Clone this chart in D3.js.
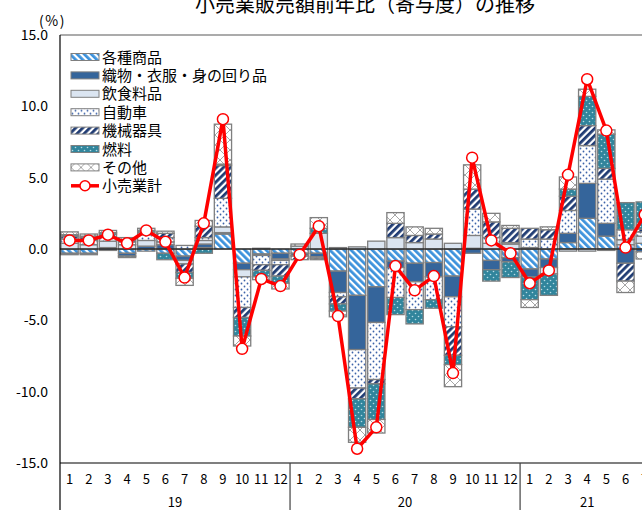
<!DOCTYPE html>
<html>
<head>
<meta charset="utf-8">
<script src="https://cdn.jsdelivr.net/npm/d3@7"></script>
<style>
  body { margin: 0; background: #fff; }
  text { font-family: "Noto Sans CJK JP", "Noto Sans", sans-serif; fill: #000; }
</style>
</head>
<body>
<div id="content"></div>
<script>
// months / years on the category axis
const months = ["1","2","3","4","5","6","7","8","9","10","11","12",
                "1","2","3","4","5","6","7","8","9","10","11","12",
                "1","2","3","4","5","6","7"]
const years = ["19", "20", "21"]
const yearLengths = [12, 12, 7]

const seriesNames = ["各種商品", "織物・衣服・身の回り品", "飲食料品", "自動車", "機械器具", "燃料", "その他"]
const lineName = "小売業計"

// contributions (% points)
const dept = [-0.3,-0.3,0.1,-0.3,-0.15,-0.3,-0.5,0.1,1.05,-1.0,-0.35,-0.3,
              -0.3,-0.3,-1.55,-3.25,-2.65,-0.85,-1.0,-0.95,-1.9,0.05,-0.8,-0.6,
              -1.4,-0.7,0.45,2.15,0.9,0.3,0.4]
const textile = [-0.1,-0.1,-0.1,-0.2,0.2,0.3,-0.3,0.25,0.1,-0.45,-0.1,-0.4,
                 -0.15,-0.25,-1.5,-3.8,-2.5,-0.45,-1.3,-1.0,-1.45,-0.3,-0.65,-0.3,
                 -0.55,-0.6,0.65,2.45,0.9,-1.0,-0.2]
const food = [0.4,0.3,0.45,0.3,0.4,0.2,-0.25,0.25,0.4,-0.5,0.05,-0.1,
              0.2,1.1,0.1,0.15,0.55,0.8,0.45,0.7,0.4,0.9,0.4,0.35,
              0.1,-0.45,-0.15,-0.15,-0.1,0.35,0.5]
const cars = [0.3,0.3,0.3,0.2,0.4,0.3,0.25,0.2,2.0,-2.15,-0.65,-0.3,
              -0.05,-0.1,-0.3,-2.7,-4.0,-2.1,-1.95,-1.6,-2.1,1.85,0.4,0.1,
              0.6,0.7,1.6,2.65,3.1,0.7,0.3]
const machinery = [0.2,0.2,0.2,0.15,0.2,0.3,-0.6,0.8,2.3,-0.7,-0.4,-0.8,
                   -0.25,-0.1,-0.5,-0.75,-0.3,1.0,0.5,0.35,-2.0,1.4,1.1,1.0,
                   0.75,0.65,1.0,1.4,0.75,-1.25,0.2]
const fuel = [0.1,0.1,0.1,-0.1,0.1,-0.45,-0.4,-0.3,0.1,-1.3,-0.45,-0.5,
              0.0,0.35,-0.5,-2.0,-2.5,-1.2,-1.0,-0.6,-0.65,0.0,-0.8,-1.1,
              -1.6,-1.5,0.5,2.05,2.4,1.9,1.9]
const other = [0.2,0.15,0.15,0.15,0.15,0.15,-0.5,0.4,2.8,-0.7,-0.2,-0.4,
               0.15,0.75,-0.4,-1.05,-0.95,0.75,0.6,0.4,-1.55,1.7,0.6,0.2,
               -0.55,0.2,0.85,0.5,0.3,-0.8,-0.5]
const total = [0.6,0.6,1.0,0.4,1.3,0.5,-2.0,1.8,9.1,-7.0,-2.1,-2.6,
               -0.4,1.6,-4.7,-14.0,-12.5,-1.2,-2.9,-1.9,-8.7,6.4,0.6,-0.3,
               -2.4,-1.5,5.2,11.9,8.3,0.1,2.4]

const yTicks = [-15, -10, -5, 0, 5, 10, 15]

const seriesValues = [dept, textile, food, cars, machinery, fuel, other]
const rows = months.map((m, i) => {
    const r = {i: i}
    seriesNames.forEach((k, j) => r[k] = seriesValues[j][i])
    return r
})

const margin = {top: 35, left: 60}
const outerWidth = 642
const outerHeight = 510
const plotWidth = 31 * 19.17
const plotHeight = 428

const svg = d3.select("#content").append("svg")
    .attr("width", outerWidth)
    .attr("height", outerHeight)

// patterns
const defs = svg.append("defs")
function stripes(id, color, angle) {
    const p = defs.append("pattern").attr("id", id)
        .attr("patternUnits", "userSpaceOnUse")
        .attr("width", 5).attr("height", 5)
        .attr("patternTransform", `rotate(${angle})`)
    p.append("rect").attr("width", 5).attr("height", 5).attr("fill", "#fff")
    p.append("rect").attr("width", 2.8).attr("height", 5).attr("fill", color)
}
stripes("pDept", "#3d92dc", -45)
stripes("pMach", "#1f3b73", 45)

const pCars = defs.append("pattern").attr("id", "pCars")
    .attr("patternUnits", "userSpaceOnUse").attr("width", 6).attr("height", 6)
pCars.append("rect").attr("width", 6).attr("height", 6).attr("fill", "#fff")
pCars.append("circle").attr("cx", 1.5).attr("cy", 1.5).attr("r", 0.9).attr("fill", "#3b62a8")
pCars.append("circle").attr("cx", 4.5).attr("cy", 4.5).attr("r", 0.9).attr("fill", "#3b62a8")

const pFuel = defs.append("pattern").attr("id", "pFuel")
    .attr("patternUnits", "userSpaceOnUse").attr("width", 6).attr("height", 6)
pFuel.append("rect").attr("width", 6).attr("height", 6).attr("fill", "#31859c")
pFuel.append("circle").attr("cx", 1.5).attr("cy", 1.5).attr("r", 0.8).attr("fill", "#b8dce6")
pFuel.append("circle").attr("cx", 4.5).attr("cy", 4.5).attr("r", 0.8).attr("fill", "#b8dce6")

const pOther = defs.append("pattern").attr("id", "pOther")
    .attr("patternUnits", "userSpaceOnUse").attr("width", 10).attr("height", 10)
pOther.append("rect").attr("width", 10).attr("height", 10).attr("fill", "#fff")
pOther.append("path").attr("d", "M0,0L10,10M10,0L0,10")
    .attr("stroke", "#a6a6a6").attr("stroke-width", 1)

const fills = ["url(#pDept)", "#35659b", "#dbe5f1", "url(#pCars)", "url(#pMach)", "url(#pFuel)", "url(#pOther)"]

// scales
const x = d3.scaleBand()
    .domain(d3.range(months.length))
    .range([margin.left, margin.left + plotWidth])
    .paddingInner(0.1)
    .paddingOuter(0.05)
const y = d3.scaleLinear()
    .domain([-15, 15])
    .range([margin.top + plotHeight, margin.top])

// title
svg.append("text")
    .attr("x", 365).attr("y", 12)
    .attr("text-anchor", "middle")
    .style("font-size", "20px")
    .text("小売業販売額前年比（寄与度）の推移")

svg.append("text")
    .attr("x", 39).attr("y", 26)
    .style("font-size", "14px")
    .style("letter-spacing", "1.5px")
    .text("(%)")

// y labels
svg.append("g").selectAll("text")
    .data(yTicks)
    .join("text")
    .attr("x", 48)
    .attr("y", d => y(d) + 5)
    .attr("text-anchor", "end")
    .style("font-size", "14px")
    .text(d => d3.format(".1f")(d).replace("−", "-"))

// stacked bars
const stack = d3.stack().keys(seriesNames).offset(d3.stackOffsetDiverging)
const stacked = stack(rows)

svg.append("g").selectAll("g")
    .data(stacked)
    .join("g")
    .attr("fill", (d, i) => fills[i])
    .selectAll("rect")
    .data(d => d.filter(s => s[1] - s[0] !== 0))
    .join("rect")
    .attr("x", d => x(d.data.i))
    .attr("width", x.bandwidth())
    .attr("y", d => y(Math.max(d[0], d[1])))
    .attr("height", d => Math.abs(y(d[0]) - y(d[1])))
    .attr("stroke", "#7f7f7f")
    .attr("stroke-width", 1.3)

// frame
const right = margin.left + plotWidth
svg.append("line")
    .attr("x1", margin.left).attr("x2", right)
    .attr("y1", y(15)).attr("y2", y(15))
    .attr("stroke", "#595959").attr("stroke-width", 1.2)
svg.append("line")
    .attr("x1", margin.left).attr("x2", right)
    .attr("y1", y(0)).attr("y2", y(0))
    .attr("stroke", "#000").attr("stroke-width", 1)
svg.append("line")
    .attr("x1", margin.left).attr("x2", right)
    .attr("y1", y(-15)).attr("y2", y(-15))
    .attr("stroke", "#000").attr("stroke-width", 1.2)
svg.append("line")
    .attr("x1", margin.left).attr("x2", margin.left)
    .attr("y1", y(15)).attr("y2", outerHeight)
    .attr("stroke", "#000").attr("stroke-width", 1.2)

// month labels
const step = x.step()
svg.append("g").selectAll("text")
    .data(months)
    .join("text")
    .attr("x", (d, i) => x(i) + x.bandwidth() / 2)
    .attr("y", 484)
    .attr("text-anchor", "middle")
    .style("font-size", "13px")
    .text(d => d)

// year separators + labels
let start = 0
years.forEach((yr, k) => {
    const x0 = margin.left + start * step
    const x1 = margin.left + (start + yearLengths[k]) * step
    if (k > 0) {
        svg.append("line")
            .attr("x1", x0).attr("x2", x0)
            .attr("y1", y(-15)).attr("y2", outerHeight)
            .attr("stroke", "#404040").attr("stroke-width", 1.2)
    }
    svg.append("text")
        .attr("x", (x0 + x1) / 2)
        .attr("y", 507)
        .attr("text-anchor", "middle")
        .style("font-size", "13px")
        .text(yr)
    start += yearLengths[k]
})

// total line
const cx = i => x(i) + x.bandwidth() / 2
const line = d3.line()
    .x((d, i) => cx(i))
    .y(d => y(d))
svg.append("path")
    .datum(total)
    .attr("d", line)
    .attr("fill", "none")
    .attr("stroke", "#ff0000")
    .attr("stroke-width", 3.5)
    .attr("stroke-linejoin", "round")
svg.append("g").selectAll("circle")
    .data(total)
    .join("circle")
    .attr("cx", (d, i) => cx(i))
    .attr("cy", d => y(d))
    .attr("r", 5.5)
    .attr("fill", "#fff")
    .attr("stroke", "#ff0000")
    .attr("stroke-width", 1.5)

// legend
const legend = svg.append("g").attr("transform", "translate(71, 57)")
const rowH = 18.4
seriesNames.forEach((name, i) => {
    const g = legend.append("g").attr("transform", `translate(0, ${i * rowH})`)
    g.append("rect")
        .attr("x", 0).attr("y", -3.5)
        .attr("width", 28).attr("height", 7)
        .attr("fill", fills[i])
        .attr("stroke", "#7f7f7f").attr("stroke-width", 1)
    g.append("text")
        .attr("x", 31).attr("y", 5.5)
        .style("font-size", "15px")
        .text(name)
})
const lg = legend.append("g").attr("transform", `translate(0, ${7 * rowH})`)
lg.append("line").attr("x1", 0).attr("x2", 28)
    .attr("stroke", "#ff0000").attr("stroke-width", 3.5)
lg.append("circle").attr("cx", 14).attr("cy", 0).attr("r", 5)
    .attr("fill", "#fff").attr("stroke", "#ff0000").attr("stroke-width", 1.5)
lg.append("text").attr("x", 31).attr("y", 5.5)
    .style("font-size", "15px")
    .text(lineName)
</script>
</body>
</html>
